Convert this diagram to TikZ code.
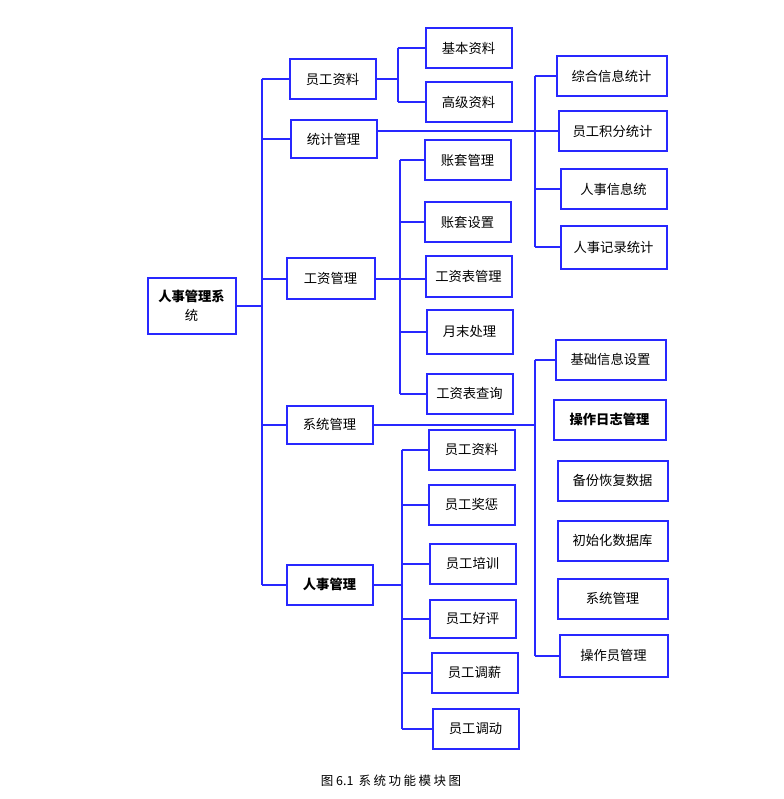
\documentclass[tikz,border=0pt]{standalone}
\usepackage{fontspec}
\setmainfont{Noto Sans CJK SC}
\definecolor{bl}{RGB}{40,40,255}
\begin{document}
\begin{tikzpicture}[x=1pt,y=-1pt,
  box/.style={draw=bl, line width=2pt, inner sep=0pt, text=black, font=\fontsize{13.3}{15}\selectfont},
  conn/.style={draw=bl, line width=2pt}]
\useasboundingbox (0,0) rectangle (783,799);
% root
\node[box, minimum width=88pt, minimum height=56pt, align=center, font=\fontsize{13.3}{19}\selectfont] (root) at (191.5,305.5) {\textbf{人事管理系}\\统};
% level 1
\node[box, minimum width=86pt, minimum height=40pt] (a1) at (332.5,79.5) {员工资料};
\node[box, minimum width=86pt, minimum height=38pt] (a2) at (333.5,139.5) {统计管理};
\node[box, minimum width=88pt, minimum height=40pt] (a3) at (330.5,278.5) {工资管理};
\node[box, minimum width=86pt, minimum height=38pt] (a4) at (329.5,424.5) {系统管理};
\node[box, minimum width=86pt, minimum height=40pt] (a5) at (329.5,584.5) {\textbf{人事管理}};
% b
\node[box, minimum width=86pt, minimum height=40pt] (b1) at (468.5,48.5) {基本资料};
\node[box, minimum width=86pt, minimum height=40pt] (b2) at (468.5,102.5) {高级资料};
% c
\node[box, minimum width=110pt, minimum height=40pt] (c1) at (611.5,76.5) {综合信息统计};
\node[box, minimum width=108pt, minimum height=40pt] (c2) at (612.5,131.5) {员工积分统计};
\node[box, minimum width=106pt, minimum height=40pt] (c3) at (613.5,189.5) {人事信息统};
\node[box, minimum width=106pt, minimum height=42pt] (c4) at (613.5,247.5) {人事记录统计};
% d
\node[box, minimum width=86pt, minimum height=40pt] (d1) at (467.5,160.5) {账套管理};
\node[box, minimum width=86pt, minimum height=40pt] (d2) at (467.5,222.5) {账套设置};
\node[box, minimum width=86pt, minimum height=40pt] (d3) at (468.5,276.5) {工资表管理};
\node[box, minimum width=86pt, minimum height=44pt] (d4) at (469.5,331.5) {月末处理};
\node[box, minimum width=86pt, minimum height=40pt] (d5) at (469.5,393.5) {工资表查询};
% e
\node[box, minimum width=110pt, minimum height=40pt] (e1) at (610.5,359.5) {基础信息设置};
\node[box, minimum width=112pt, minimum height=40pt] (e2) at (609.5,419.5) {\textbf{操作日志管理}};
\node[box, minimum width=110pt, minimum height=40pt] (e3) at (612.5,480.5) {备份恢复数据};
\node[box, minimum width=110pt, minimum height=40pt] (e4) at (612.5,540.5) {初始化数据库};
\node[box, minimum width=110pt, minimum height=40pt] (e5) at (612.5,598.5) {系统管理};
\node[box, minimum width=108pt, minimum height=42pt] (e6) at (613.5,655.5) {操作员管理};
% f
\node[box, minimum width=86pt, minimum height=40pt] (f1) at (471.5,449.5) {员工资料};
\node[box, minimum width=86pt, minimum height=40pt] (f2) at (471.5,504.5) {员工奖惩};
\node[box, minimum width=86pt, minimum height=40pt] (f3) at (472.5,563.5) {员工培训};
\node[box, minimum width=86pt, minimum height=38pt] (f4) at (472.5,618.5) {员工好评};
\node[box, minimum width=86pt, minimum height=40pt] (f5) at (474.5,672.5) {员工调薪};
\node[box, minimum width=86pt, minimum height=40pt] (f6) at (475.5,728.5) {员工调动};
% caption
\node[font=\fontsize{12.5}{14}\selectfont] (cap) at (391,781) {图 6.1\hspace{5pt}{\addfontfeature{LetterSpace=20}系统功能模块图}};
% trunk coordinates
\coordinate (T) at (261.5,0);
\coordinate (B) at (397.5,0);
\coordinate (C) at (534.5,0);
\coordinate (D) at (399.5,0);
\coordinate (F) at (401.5,0);
% root trunk
\draw[conn] (root.east) -- (root.east -| T);
\draw[conn] (a1.west -| T) -- (a5.west -| T);
\foreach \n in {a1,a2,a3,a4,a5} \draw[conn] (\n.west -| T) -- (\n.west);
% a1 -> b
\draw[conn] (a1.east) -- (a1.east -| B);
\draw[conn] (b1.west -| B) -- (b2.west -| B);
\foreach \n in {b1,b2} \draw[conn] (\n.west -| B) -- (\n.west);
% a2 -> c
\draw[conn] (a2.east |- c2.west) -- (c2.west);
\draw[conn] (c1.west -| C) -- (c4.west -| C);
\foreach \n in {c1,c3,c4} \draw[conn] (\n.west -| C) -- (\n.west);
% a3 -> d
\draw[conn] (a3.east) -- (a3.east -| d3.west);
\draw[conn] (d1.west -| D) -- (d5.west -| D);
\foreach \n in {d1,d2,d4,d5} \draw[conn] (\n.west -| D) -- (\n.west);
% a4 -> e
\draw[conn] (a4.east) -- (a4.east -| C);
\draw[conn] (e1.west -| C) -- (e6.west -| C);
\foreach \n in {e1,e6} \draw[conn] (\n.west -| C) -- (\n.west);
% a5 -> f
\draw[conn] (a5.east) -- (a5.east -| F);
\draw[conn] (f1.west -| F) -- (f6.west -| F);
\foreach \n in {f1,f2,f3,f4,f5,f6} \draw[conn] (\n.west -| F) -- (\n.west);
\end{tikzpicture}
\end{document}
